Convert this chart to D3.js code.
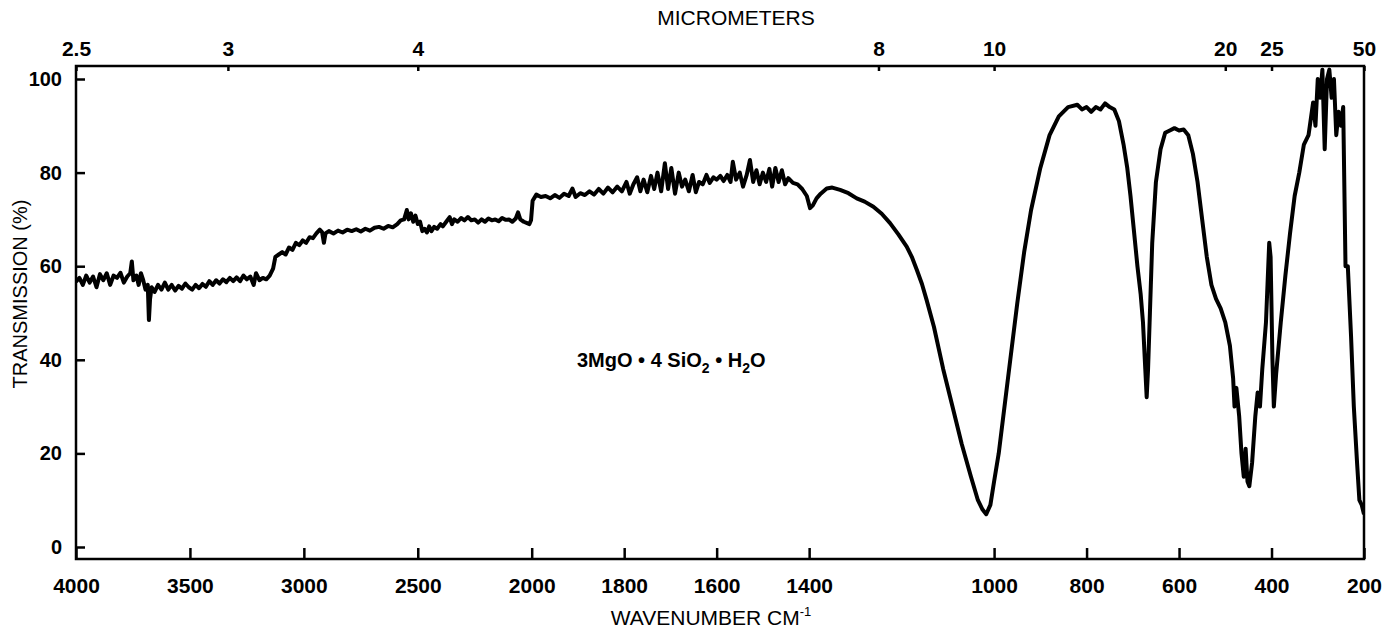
<!DOCTYPE html>
<html>
<head>
<meta charset="utf-8">
<script src="https://cdn.jsdelivr.net/npm/d3@7"></script>
<style>
  body { margin: 0; background: #fff; }
  text { font-family: "Liberation Sans", Arial, sans-serif; fill: #000; }
</style>
</head>
<body>
<div id="chart"></div>
<script>
// wavenumber (cm-1) and transmission (%)
const wavenumber = [
  4000,3985,3970,3955,3940,3925,3910,3895,3880,3865,3850,3835,3820,3805,3790,3775,3762,3755,3748,3735,
  3725,3715,3705,3695,3685,3680,3675,3668,3655,3640,3625,3610,3595,3580,3565,3550,3535,3520,3505,3490,
  3475,3460,3445,3430,3415,3400,3385,3370,3355,3340,3325,3310,3295,3280,3265,3250,3235,3220,3210,3195,
  3180,3165,3150,3135,3125,3110,3095,3080,3065,3050,3035,3020,3005,2990,2975,2960,2945,2930,2920,2912,
  2905,2890,2870,2850,2830,2810,2790,2770,2750,2730,2710,2690,2670,2650,2630,2610,2590,2575,2560,2548,
  2540,2530,2520,2510,2500,2490,2480,2470,2460,2450,2440,2428,2415,2400,2390,2375,2360,2350,2340,2325,
  2310,2295,2280,2265,2250,2235,2220,2205,2190,2175,2160,2145,2130,2115,2100,2085,2070,2060,2050,2035,
  2020,2010,2003,1998,1990,1980,1970,1960,1950,1940,1930,1920,1912,1905,1895,1885,1875,1865,1855,1845,
  1835,1825,1815,1805,1795,1788,1780,1772,1765,1758,1750,1742,1735,1728,1720,1712,1705,1698,1690,1682,
  1675,1668,1660,1652,1645,1638,1630,1622,1615,1607,1600,1592,1585,1577,1570,1565,1558,1550,1543,1535,
  1528,1521,1514,1507,1500,1493,1486,1480,1473,1466,1459,1452,1445,1435,1425,1415,1405,1398,1392,1384,
  1375,1362,1350,1333,1315,1297,1280,1261,1243,1225,1207,1189,1178,1167,1156,1146,1130,1110,1090,1070,
  1050,1035,1025,1017,1008,1000,990,980,965,950,935,920,900,880,860,840,820,810,800,790,
  780,770,760,750,740,730,720,712,705,698,690,683,678,673,670,667,663,658,650,640,630,
  620,610,600,590,580,570,560,550,540,530,520,510,500,490,483,480,476,470,465,460,456,
  452,448,442,435,430,425,420,412,405,402,398,395,390,380,370,360,350,340,330,320,
  310,305,300,295,290,285,280,275,270,265,260,255,250,245,240,235,228,222,215,210,
  205,200
];
const transmission = [
  56.7,57.5,56.0,58.0,56.5,57.8,55.5,58.3,57.0,58.5,56.0,58.0,57.5,58.6,56.5,57.8,58.5,61.0,57.0,58.0,
  56.0,58.5,57.0,55.0,56.0,48.5,53.0,55.5,54.5,56.0,55.0,56.5,55.0,56.0,54.8,55.8,55.2,56.3,55.5,55.0,
  56.0,55.3,56.2,55.6,56.8,56.0,57.0,56.3,57.2,56.6,57.5,56.8,57.6,56.8,58.0,57.2,57.8,56.0,58.5,57.0,
  57.5,57.2,58.0,59.5,62.0,62.5,63.0,62.5,64.0,63.5,65.0,64.5,65.5,65.0,66.2,66.0,67.0,67.8,67.3,65.0,
  67.0,67.5,67.0,67.6,67.2,67.8,67.5,67.9,67.4,68.0,67.6,68.2,68.4,68.0,68.6,68.3,69.0,69.8,70.0,72.0,
  70.0,71.3,69.5,70.8,69.0,69.5,67.5,68.0,67.2,68.5,67.5,68.4,68.0,69.0,68.5,69.5,70.5,69.0,70.0,69.5,
  70.3,69.8,70.5,69.8,70.0,69.3,70.0,69.5,70.2,69.8,70.0,69.6,70.3,69.9,70.0,69.5,70.2,71.5,70.0,69.5,
  69.2,69.0,69.8,74.0,75.3,74.8,75.0,74.5,75.2,74.6,75.5,75.0,76.6,74.8,75.6,75.2,76.0,75.3,76.5,75.5,
  76.8,75.8,77.0,76.0,78.0,75.5,77.5,79.0,76.0,78.5,75.8,79.3,76.5,80.0,76.0,82.0,76.5,81.0,75.5,80.0,
  77.0,78.5,76.0,79.5,75.8,78.0,77.5,79.5,77.8,79.0,78.5,79.3,78.2,79.5,78.0,82.3,78.5,80.0,77.0,79.5,
  82.7,78.0,80.5,77.5,80.0,78.0,80.8,77.0,81.0,78.0,80.5,77.5,78.8,77.8,77.5,76.5,75.0,72.4,73.0,74.5,
  75.5,76.6,76.8,76.3,75.6,74.5,73.8,72.7,71.2,69.2,66.8,64.2,62.0,59.2,56.2,52.8,47.0,38.0,30.0,22.0,
  15.0,10.0,8.0,7.0,9.0,14.0,20.0,28.0,40.0,52.0,63.0,72.0,81.0,88.0,92.0,94.0,94.5,93.5,94.0,93.0,
  94.0,93.5,94.8,94.0,93.5,91.0,86.0,81.0,75.0,68.0,60.0,54.0,48.0,38.0,32.0,38.0,50.0,65.0,78.0,85.0,88.5,
  89.0,89.5,89.0,89.2,88.0,84.0,78.0,70.0,62.0,56.0,53.0,51.0,48.0,43.0,36.0,30.0,34.0,28.0,20.0,15.0,21.0,
  14.0,13.0,18.0,28.0,33.0,30.0,38.0,48.0,65.0,62.0,40.0,30.0,37.0,48.0,58.0,67.0,75.0,80.0,86.0,88.0,
  95.0,90.0,100.0,96.0,102.0,85.0,100.0,102.0,96.0,100.0,88.0,93.0,90.0,94.0,60.0,60.0,45.0,30.0,18.0,10.0,
  9.0,7.0
];

const bottomTicks = [4000,3500,3000,2500,2000,1800,1600,1400,1000,800,600,400,200];
const yTicks = [0,20,40,60,80,100];
const micrometerTicks = [2.5,3,4,8,10,20,25,50];

const W = 1386, H = 634;
const plotLeft = 76, plotRight = 1364, plotTop = 66, plotBottom = 559;

const svg = d3.select("#chart")
  .append("svg")
    .attr("width", W)
    .attr("height", H);

// grating change at 2000 cm-1: the low-wavenumber part is drawn twice as wide
const x = d3.scaleLinear()
  .domain([4000, 2000, 200])
  .range([plotLeft, 531.7, plotRight]);

const y = d3.scaleLinear()
  .domain([0, 100])
  .range([547, 79]);

svg.append("clipPath").attr("id", "plotclip")
  .append("rect")
    .attr("x", plotLeft).attr("y", plotTop)
    .attr("width", plotRight - plotLeft).attr("height", plotBottom - plotTop);

const data = wavenumber.map((w, i) => ({w: w, t: transmission[i]}));

svg.append("path")
  .datum(data)
  .attr("clip-path", "url(#plotclip)")
  .attr("fill", "none")
  .attr("stroke", "#000")
  .attr("stroke-width", 4)
  .attr("stroke-linejoin", "round")
  .attr("d", d3.line().x(d => x(d.w)).y(d => y(d.t)));

// frame
svg.append("rect")
  .attr("x", plotLeft).attr("y", plotTop)
  .attr("width", plotRight - plotLeft).attr("height", plotBottom - plotTop)
  .attr("fill", "none")
  .attr("stroke", "#000")
  .attr("stroke-width", 2.5);

// bottom axis, ticks pointing inward
const xAxis = svg.append("g")
  .attr("transform", `translate(0,${plotBottom})`)
  .call(d3.axisBottom(x).tickValues(bottomTicks).tickSize(-11).tickPadding(19).tickFormat(d3.format("d")));
xAxis.select(".domain").remove();
xAxis.selectAll("line").attr("stroke-width", 2.5);
xAxis.selectAll("text").style("font-size", "21px").style("font-weight", "bold")
  .attr("font-family", null);

// left axis
const yAxis = svg.append("g")
  .attr("transform", `translate(${plotLeft},0)`)
  .call(d3.axisLeft(y).tickValues(yTicks).tickSize(-9).tickPadding(14));
yAxis.select(".domain").remove();
yAxis.selectAll("line").attr("stroke-width", 2.5);
yAxis.selectAll("text").style("font-size", "20px").style("font-weight", "bold")
  .attr("font-family", null);

// top axis in micrometers
const topAxis = svg.append("g")
  .attr("transform", `translate(0,${plotTop})`)
  .call(d3.axisTop(x).tickValues(micrometerTicks.map(m => 10000 / m)).tickSize(-5).tickPadding(10)
    .tickFormat(w => String(+(10000 / w).toFixed(1))));
topAxis.select(".domain").remove();
topAxis.selectAll("line").attr("stroke-width", 2.5);
topAxis.selectAll("text").style("font-size", "21px").style("font-weight", "bold")
  .attr("font-family", null);

svg.append("text")
  .attr("x", 736).attr("y", 25)
  .attr("text-anchor", "middle")
  .style("font-size", "21px")
  .text("MICROMETERS");

const xl = svg.append("text")
  .attr("x", 711).attr("y", 625)
  .attr("text-anchor", "middle")
  .style("font-size", "21px");
xl.append("tspan").text("WAVENUMBER CM");
xl.append("tspan").attr("dy", -9).style("font-size", "13px").text("-1");

svg.append("text")
  .attr("transform", "translate(27,294) rotate(-90)")
  .attr("text-anchor", "middle")
  .style("font-size", "20px")
  .text("TRANSMISSION (%)");

const note = svg.append("text")
  .attr("x", 577).attr("y", 367)
  .style("font-size", "20px")
  .style("font-weight", "bold");
note.append("tspan").text("3MgO \u2022 4 SiO");
note.append("tspan").attr("dy", 6).style("font-size", "14px").text("2");
note.append("tspan").attr("dy", -6).text(" \u2022 H");
note.append("tspan").attr("dy", 6).style("font-size", "14px").text("2");
note.append("tspan").attr("dy", -6).text("O");
</script>
</body>
</html>
